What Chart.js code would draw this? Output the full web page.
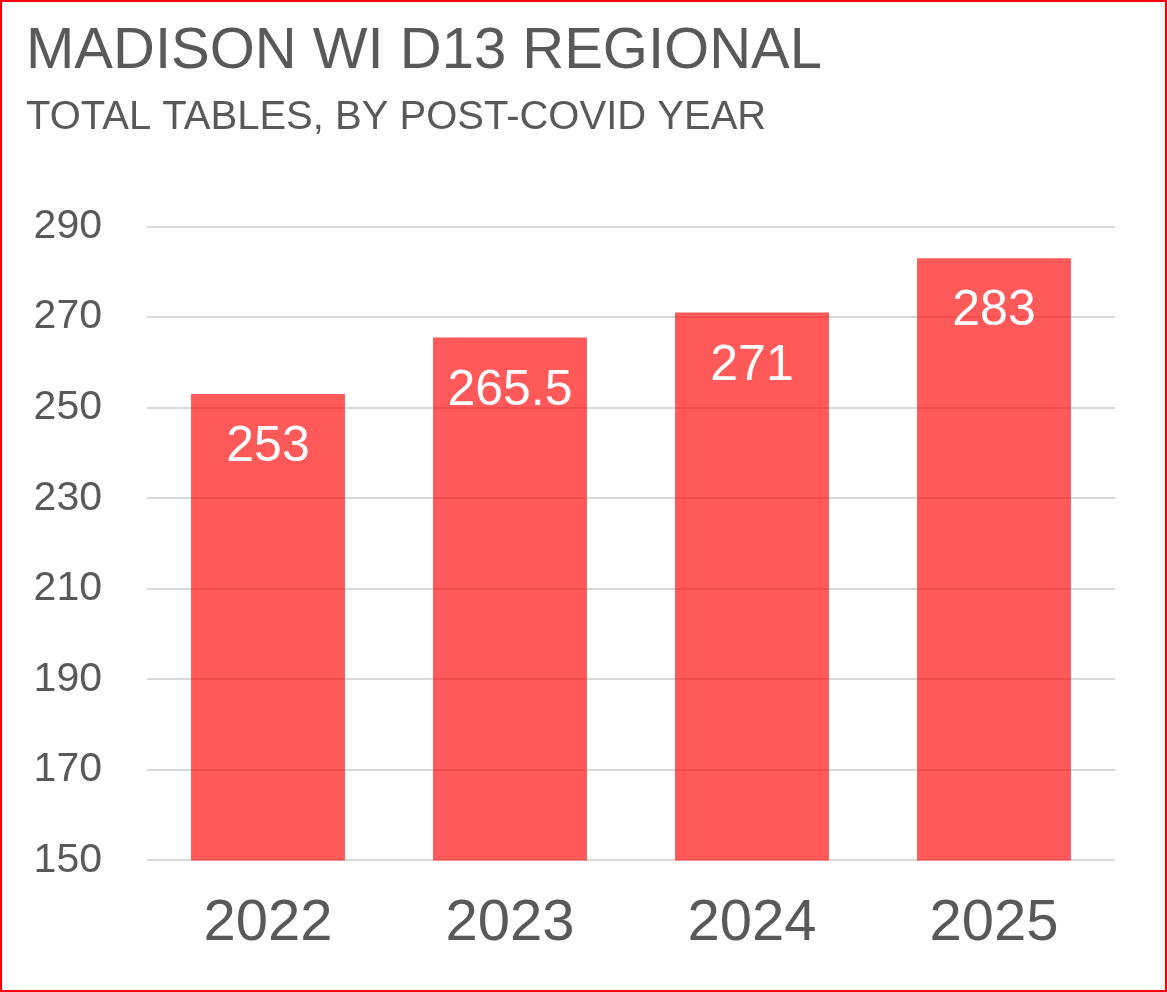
<!DOCTYPE html>
<html>
<head>
<meta charset="utf-8">
<script src="https://cdn.jsdelivr.net/npm/chart.js@4/dist/chart.umd.min.js"></script>
<style>
    html, body { margin: 0; padding: 0; background: #fff; }
    #wrap { position: relative; width: 1167px; height: 992px; }
    #frame { position: absolute; left: 0; top: 0; width: 1167px; height: 992px; box-sizing: border-box; border: 2px solid #ff0000; pointer-events: none; }
    canvas { position: absolute; left: 0; top: 0; }
</style>
</head>
<body>
<div id="wrap">
    <canvas id="chart" width="1167" height="992"></canvas>
    <div id="frame"></div>
</div>
<script>
const years = ["2022", "2023", "2024", "2025"];
const tables = [253, 265.5, 271, 283];
const yTicks = [150, 170, 190, 210, 230, 250, 270, 290];

const textColor = "#595959";
const fontFamily = "'Liberation Sans', Arial, sans-serif";

const barLabels = {
    id: "barLabels",
    afterDatasetsDraw(chart) {
        const ctx = chart.ctx;
        const meta = chart.getDatasetMeta(0);
        ctx.save();
        ctx.fillStyle = "#ffffff";
        ctx.font = "50px " + fontFamily;
        ctx.textAlign = "center";
        ctx.textBaseline = "alphabetic";
        meta.data.forEach((bar, i)=>{
            ctx.fillText(String(tables[i]), bar.x, bar.y + 67);
        });
        ctx.restore();
    }
};

const config = {
    type: "bar",
    data: {
        labels: years,
        datasets: [
            {
                label: "Total tables",
                data: tables,
                backgroundColor: "rgba(255, 0, 0, 0.65)",
                borderWidth: 0,
                barPercentage: 0.636,
                categoryPercentage: 1
            }
        ]
    },
    options: {
        responsive: false,
        animation: false,
        devicePixelRatio: 1,
        layout: {
            padding: { top: 0, left: 26, right: 52, bottom: 4 }
        },
        plugins: {
            legend: { display: false },
            tooltip: { enabled: false },
            title: {
                display: true,
                text: "MADISON WI D13 REGIONAL",
                align: "start",
                color: textColor,
                font: { family: fontFamily, size: 58, weight: "normal" },
                padding: { top: 17, bottom: 0 }
            },
            subtitle: {
                display: true,
                text: "TOTAL TABLES, BY POST-COVID YEAR",
                align: "start",
                color: textColor,
                font: { family: fontFamily, size: 40, weight: "normal" },
                padding: { top: 7, bottom: 85 }
            }
        },
        scales: {
            x: {
                grid: { display: false, drawTicks: false },
                border: { display: false },
                ticks: {
                    color: textColor,
                    font: { family: fontFamily, size: 58 },
                    padding: 29
                }
            },
            y: {
                min: yTicks[0],
                max: yTicks[yTicks.length - 1],
                afterBuildTicks: (scale)=>{
                    scale.ticks = yTicks.map((v)=>({ value: v }));
                },
                afterFit: (scale)=>{
                    scale.width = 121;
                },
                grid: { color: "#d9d9d9", lineWidth: 2, drawTicks: false },
                border: { display: false },
                ticks: {
                    color: textColor,
                    font: { family: fontFamily, size: 41 },
                    padding: 45
                }
            }
        }
    },
    plugins: [barLabels]
};

new Chart(document.getElementById("chart"), config);
</script>
</body>
</html>
